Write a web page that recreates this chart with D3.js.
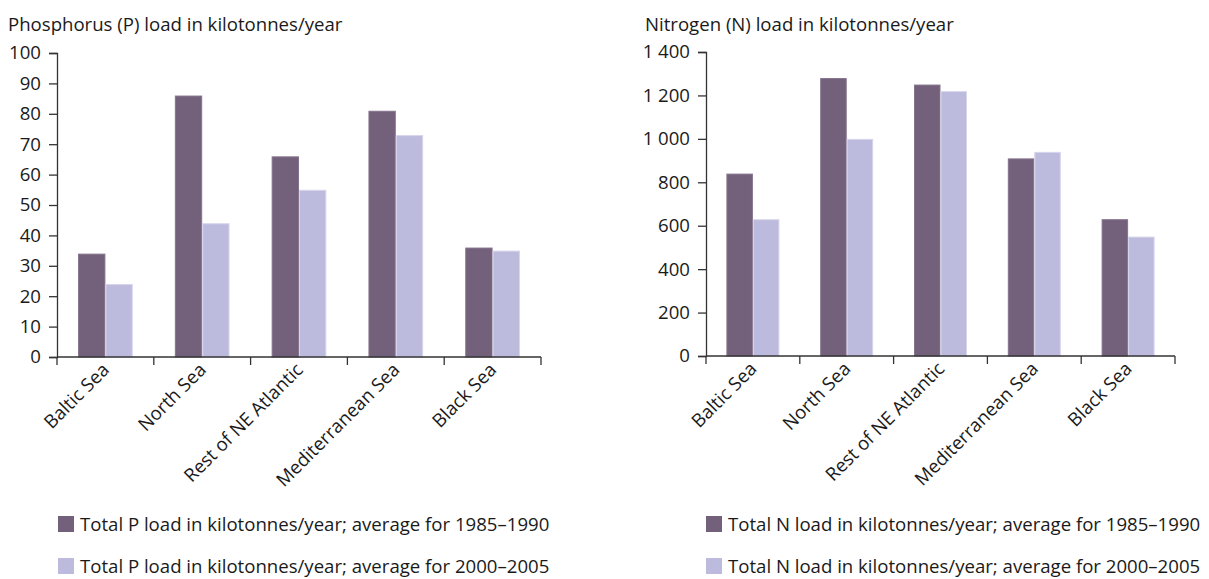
<!DOCTYPE html>
<meta charset="utf-8">
<style>
body { margin: 0; background: #fff; }
svg text { font-family: "Open Sans", sans-serif; fill: #1a1a1a; }
.axis path, .axis line { stroke: #333; stroke-width: 1.3; }
</style>
<body>
<svg id="chart" width="1209" height="579"></svg>
<script src="https://d3js.org/d3.v7.min.js"></script>
<script>

var categories = ["Baltic Sea", "North Sea", "Rest of NE Atlantic", "Mediterranean Sea", "Black Sea"];
var series = ["1985–1990", "2000–2005"];

var pOld = [34, 86, 66, 81, 36];
var pNew = [24, 44, 55, 73, 35];
var pTicks = [0, 10, 20, 30, 40, 50, 60, 70, 80, 90, 100];

var nOld = [840, 1280, 1250, 910, 630];
var nNew = [630, 1000, 1220, 940, 550];
var nTicks = [0, 200, 400, 600, 800, 1000, 1200, 1400];

var colors = ["#73607b", "#bdbbdd"];
var edges = ["#85738c", "#d6d5ec"];

var svg = d3.select("#chart");
var fs = "18.6px";

var spaceFmt = d3.formatLocale({decimal: ".", thousands: " ", grouping: [3], currency: ["", ""]}).format(",");

function drawChart(opt) {
    var g = svg.append("g");

    var x0 = d3.scaleBand()
        .domain(categories)
        .range([opt.left, opt.right])
        .padding(0);

    var x1 = d3.scaleBand()
        .domain(series)
        .range([0, x0.bandwidth()])
        .paddingInner(0)
        .paddingOuter(0.77);

    var y = d3.scaleLinear()
        .domain([0, opt.max])
        .range([opt.bottom, opt.top]);

    g.append("text")
        .attr("x", opt.titleX)
        .attr("y", 31)
        .style("font-size", fs)
        .text(opt.title);

    // bars
    var groups = g.selectAll(".grp")
        .data(categories)
        .enter().append("g")
        .attr("transform", function(d) { return "translate(" + x0(d) + ",0)"; });

    groups.selectAll("rect")
        .data(function(d, i) {
            return [
                {s: series[0], v: opt.old[i], k: 0},
                {s: series[1], v: opt.recent[i], k: 1}
            ];
        })
        .enter().append("rect")
        .attr("x", function(d) { return x1(d.s) + 0.5; })
        .attr("width", x1.bandwidth() - 1)
        .attr("y", function(d) { return y(d.v) + 0.5; })
        .attr("height", function(d) { return y(0) - y(d.v) - 0.5; })
        .attr("fill", function(d) { return colors[d.k]; })
        .attr("stroke", function(d) { return edges[d.k]; })
        .attr("stroke-width", 1);

    // y axis
    g.append("g")
        .attr("class", "axis")
        .attr("transform", "translate(" + opt.left + ",0)")
        .call(d3.axisLeft(y).tickValues(opt.ticks).tickSize(8).tickPadding(8).tickFormat(opt.fmt))
        .call(function(a) { a.selectAll("text").style("font-size", fs).attr("fill", "#1a1a1a"); });

    // x axis line with ticks at band boundaries
    var xa = g.append("g").attr("class", "axis");
    xa.append("line")
        .attr("x1", opt.left).attr("x2", opt.right)
        .attr("y1", y(0)).attr("y2", y(0));
    var bounds = categories.map(function(c) { return x0(c); }).concat([opt.right]);
    xa.selectAll(".tk")
        .data(bounds)
        .enter().append("line")
        .attr("x1", function(d) { return d; }).attr("x2", function(d) { return d; })
        .attr("y1", y(0)).attr("y2", y(0) + 8);

    g.selectAll(".xl")
        .data(categories)
        .enter().append("text")
        .attr("text-anchor", "end")
        .attr("transform", function(d) {
            return "translate(" + (x0(d) + x0.bandwidth() / 2 + 5) + "," + (y(0) + 14) + ") rotate(-45)";
        })
        .style("font-size", fs)
        .text(function(d) { return d; });

    // legend
    var leg = g.selectAll(".leg")
        .data(series)
        .enter().append("g")
        .attr("transform", function(d, i) { return "translate(" + opt.legX + "," + (516 + i * 42) + ")"; });
    leg.append("rect")
        .attr("width", 16).attr("height", 16)
        .attr("fill", function(d, i) { return colors[i]; });
    leg.append("text")
        .attr("x", 22).attr("y", 15)
        .style("font-size", fs)
        .text(function(d) { return "Total " + opt.sym + " load in kilotonnes/year; average for " + d; });
}

drawChart({
    title: "Phosphorus (P) load in kilotonnes/year", titleX: 8, sym: "P",
    old: pOld, recent: pNew, ticks: pTicks, max: 100, fmt: d3.format("d"),
    left: 57, right: 541, top: 53, bottom: 357, legX: 58
});

drawChart({
    title: "Nitrogen (N) load in kilotonnes/year", titleX: 645, sym: "N",
    old: nOld, recent: nNew, ticks: nTicks, max: 1400, fmt: spaceFmt,
    left: 706, right: 1175, top: 52, bottom: 356, legX: 706
});

</script>
